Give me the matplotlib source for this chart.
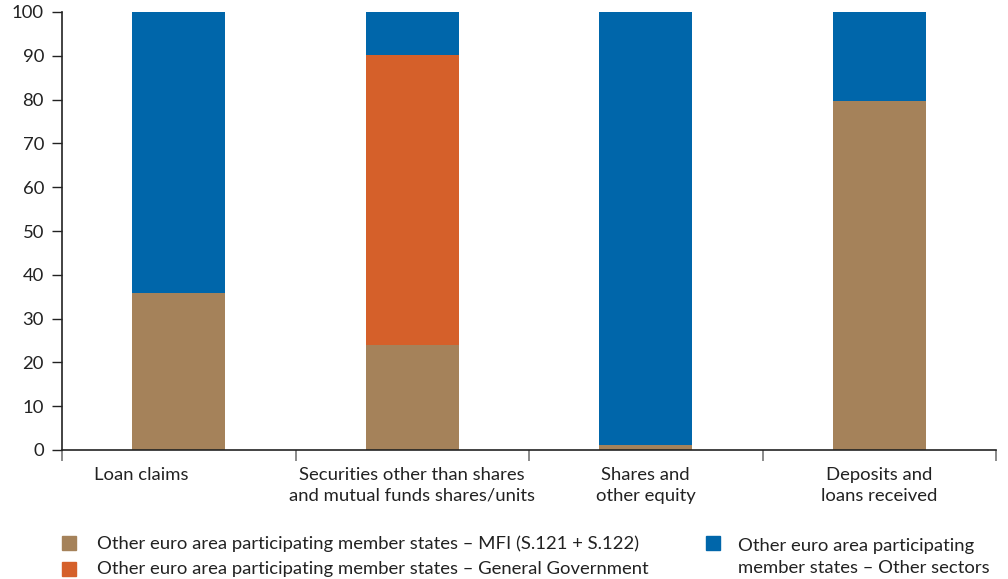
import matplotlib
matplotlib.use("Agg")
import matplotlib.pyplot as plt
from matplotlib.patches import Rectangle
from matplotlib.transforms import ScaledTranslation
import numpy as np

plt.rcParams['font.family'] = ['Lato', 'DejaVu Sans']

categories = ["Loan claims",
              "Securities other than shares\nand mutual funds shares/units",
              "Shares and\nother equity",
              "Deposits and\nloans received"]
mfi = [35.8, 24.0, 1.2, 79.7]
general_gov = [0.0, 66.2, 0.0, 0.0]
other_sectors = [64.2, 9.8, 98.8, 20.3]

series_labels = ["Other euro area participating member states \u2013 MFI (S.121 + S.122)",
                 "Other euro area participating member states \u2013 General Government",
                 "Other euro area participating\nmember states \u2013 Other sectors"]
colors = ["#A5825A", "#D5602A", "#0066AA"]
text_color = "#222222"
fs = 13.3

fig = plt.figure(figsize=(10.08, 5.79), dpi=100)
ax = fig.add_axes([62 / 1008, 1 - 450 / 579, (996 - 62) / 1008, (450 - 12) / 579])

x = np.arange(len(categories))
width = 0.4
bottom = np.zeros(len(categories))
for vals, col in zip([mfi, general_gov, other_sectors], colors):
    vals = np.array(vals)
    ax.bar(x, vals, width, bottom=bottom, color=col, edgecolor='none')
    bottom += vals

ax.set_xlim(-0.5, len(categories) - 0.5)
ax.set_ylim(0, 100)
ax.set_yticks(range(0, 101, 10))
ax.tick_params(axis='y', direction='out', length=7, width=1, colors=text_color,
               labelsize=fs, pad=6)
ax.set_xticks(x)
ax.set_xticklabels(categories, fontsize=fs, color=text_color, linespacing=1.4)
ax.tick_params(axis='x', length=0, pad=12)
ax.set_xticks(np.arange(-0.5, len(categories)), minor=True)
ax.tick_params(axis='x', which='minor', length=8, width=1.2, color="#777777")

# the first category label sits left of its bar
first = ax.get_xticklabels()[0]
first.set_transform(first.get_transform() + ScaledTranslation(-0.38, 0, fig.dpi_scale_trans))

for s in ['top', 'right']:
    ax.spines[s].set_visible(False)
for s in ['left', 'bottom']:
    ax.spines[s].set_color(text_color)
    ax.spines[s].set_linewidth(1.2)

# legend drawn in figure coordinates
def legend_square(xp, yp, color):
    fig.patches.append(Rectangle((xp / 1008, 1 - (yp + 7) / 579), 14 / 1008, 14 / 579,
                                 transform=fig.transFigure, color=color))

legend_square(62, 543, colors[0])
fig.text(97 / 1008, 1 - 544 / 579, series_labels[0], fontsize=fs, color=text_color,
         va='center', ha='left')
legend_square(62, 569, colors[1])
fig.text(97 / 1008, 1 - 569 / 579, series_labels[1], fontsize=fs, color=text_color,
         va='center', ha='left')
legend_square(706, 543, colors[2])
fig.text(738 / 1008, 1 - 557 / 579, series_labels[2], fontsize=fs, color=text_color,
         va='center', ha='left', linespacing=1.4)

fig.savefig("out.png", dpi=100)
